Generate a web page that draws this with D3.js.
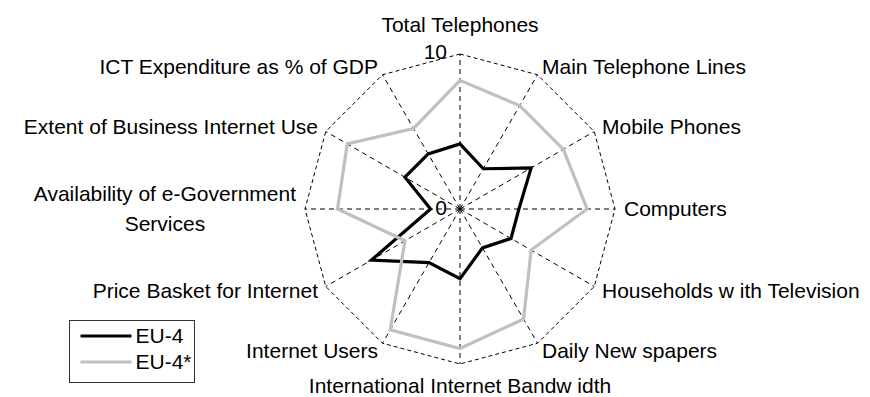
<!DOCTYPE html>
<html lang="en">
<head>
    <meta charset="UTF-8">
    <title>EU-4 radar</title>
    <style>
        html, body {
            margin: 0;
            padding: 0;
            background: #fff;
        }

        svg text {
            font-family: "Liberation Sans", Arial, sans-serif;
            font-size: 21px;
            fill: #000;
        }
    </style>
</head>
<body>
<div id="chart"></div>
<script src="https://cdn.jsdelivr.net/npm/d3@7"></script>
<script>
    const categories = [
        "Total Telephones",
        "Main Telephone Lines",
        "Mobile Phones",
        "Computers",
        "Households w ith Television",
        "Daily New spapers",
        "International Internet Bandw idth",
        "Internet Users",
        "Price Basket for Internet",
        "Availability of e-Government\nServices",
        "Extent of Business Internet Use",
        "ICT Expenditure as % of GDP"
    ]
    const eu4 = [4.2, 3.0, 5.3, 3.8, 3.8, 2.9, 4.5, 4.0, 6.6, 1.9, 4.1, 4.1]
    const eu4star = [8.3, 7.7, 7.7, 8.2, 5.3, 8.2, 9.0, 9.0, 4.1, 7.9, 8.4, 6.0]
    const seriesNames = ["EU-4", "EU-4*"]
    const tickLabels = [0, 10]

    const width = 870, height = 397
    const cx = 460, cy = 209, R = 155
    const n = categories.length

    const svg = d3.select('#chart').append('svg').attr('width', width).attr('height', height)
    const g = svg.append('g').attr('transform', `translate(${cx},${cy})`)

    const r = d3.scaleLinear().domain([0, 10]).range([0, R])
    const angle = i => i * 2 * Math.PI / n

    const radial = d3.lineRadial()
        .angle((d, i) => angle(i))
        .radius(d => r(d))
        .curve(d3.curveLinearClosed)

    // spokes
    g.selectAll('line.spoke').data(categories).enter().append('line')
        .classed('spoke', true)
        .attr('x1', 0).attr('y1', 0)
        .attr('x2', (d, i) => r(10) * Math.sin(angle(i)))
        .attr('y2', (d, i) => -r(10) * Math.cos(angle(i)))
        .attr('stroke', '#000')
        .attr('stroke-width', 1)
        .attr('stroke-dasharray', '5,4')

    // outer ring
    g.append('path')
        .attr('d', radial(categories.map(() => 10)))
        .attr('fill', 'none')
        .attr('stroke', '#000')
        .attr('stroke-width', 1)
        .attr('stroke-dasharray', '4,3')

    // series
    const series = [
        {name: seriesNames[0], values: eu4, color: '#000'},
        {name: seriesNames[1], values: eu4star, color: '#c0c0c0'}
    ]
    g.selectAll('path.series').data(series).enter().append('path')
        .classed('series', true)
        .attr('d', d => radial(d.values))
        .attr('fill', 'none')
        .attr('stroke', d => d.color)
        .attr('stroke-width', 3.2)
        .attr('stroke-linejoin', 'miter')

    // tick labels
    g.selectAll('text.tick').data(tickLabels).enter().append('text')
        .classed('tick', true)
        .attr('x', -13)
        .attr('y', d => -r(d) + (d === 0 ? 6 : 5))
        .attr('text-anchor', 'end')
        .text(d => d)

    // category labels
    const gap = 9
    categories.forEach((label, i) => {
        const a = angle(i)
        const s = Math.sin(a), c = Math.cos(a)
        const px = (R + gap) * s
        let py = -(R + gap) * c
        const anchor = s > 0.01 ? 'start' : (s < -0.01 ? 'end' : 'middle')
        const lines = label.split('\n')
        const t = g.append('text').attr('text-anchor', anchor)
        if (Math.abs(s) < 0.01) {
            py = c > 0 ? -R - 22 : R + 29
            t.attr('x', px).attr('y', py).text(label)
            return
        }
        if (lines.length === 1) {
            t.attr('x', px).attr('y', py).attr('dy', '0.33em').text(label)
            return
        }
        // wrapped label, lines centred on each other
        const lh = 30
        const spans = lines.map((ln, k) => t.append('tspan')
            .attr('x', px)
            .attr('y', py - (lines.length - 1) * lh / 2 + k * lh)
            .attr('dy', '0.33em')
            .text(ln))
        const maxW = d3.max(spans, sp => sp.node().getComputedTextLength())
        t.attr('text-anchor', 'middle')
        spans.forEach(sp => sp.attr('x', anchor === 'end' ? px - maxW / 2 : px + maxW / 2))
    })

    // legend
    const legend = svg.append('g').attr('transform', 'translate(69.5,320.5)')
    legend.append('rect')
        .attr('width', 125).attr('height', 62)
        .attr('fill', '#fff')
        .attr('stroke', '#333')
        .attr('stroke-width', 1)
    const items = legend.selectAll('g.item').data(series).enter().append('g')
        .classed('item', true)
        .attr('transform', (d, i) => `translate(0,${15.5 + i * 26})`)
    items.append('line')
        .attr('x1', 11).attr('x2', 62)
        .attr('stroke', d => d.color)
        .attr('stroke-width', 3.2)
    items.append('text')
        .attr('x', 66)
        .attr('dy', '0.33em')
        .text(d => d.name)
</script>
</body>
</html>
